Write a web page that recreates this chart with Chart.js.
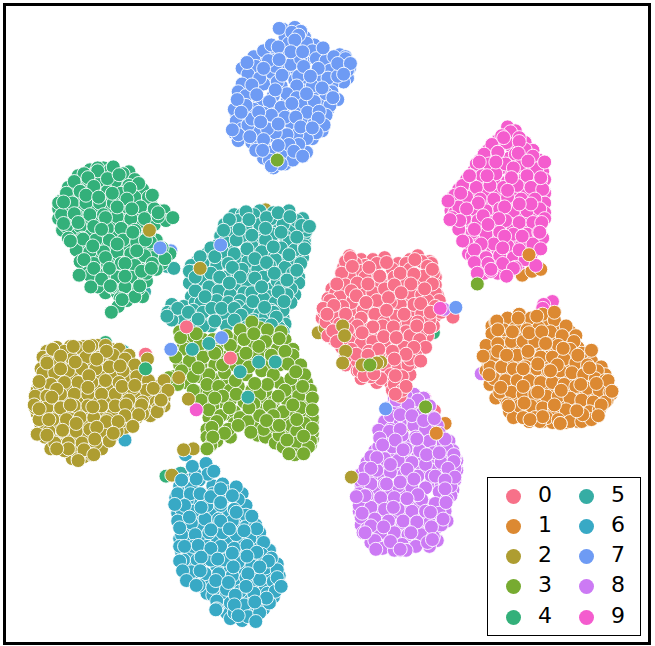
<!DOCTYPE html>
<html>
<head>
<meta charset="utf-8">
<script src="https://cdn.jsdelivr.net/npm/chart.js@4"></script>
<style>
  html, body { margin: 0; padding: 0; background: #fff; }
  #wrap { position: relative; width: 655px; height: 646px; overflow: hidden; }
  #frame { position: absolute; left: 3px; top: 3px; width: 642px; height: 636px; border: 3px solid #000; pointer-events: none; }
  #legend { position: absolute; left: 487px; top: 477px; width: 152px; height: 157px; border: 1px solid #000; background: #fff;
    font-family: "DejaVu Sans", sans-serif; font-size: 22px; color: #000; }
  #legend .dot { position: absolute; width: 15px; height: 15px; border-radius: 50%; }
  #legend .txt { position: absolute; width: 20px; text-align: center; line-height: 24px; }
</style>
</head>
<body>
<div id="wrap">
  <canvas id="tsne" width="655" height="646"></canvas>
  <div id="frame"></div>
  <div id="legend"></div>
</div>
<script>
const labels = ['0', '1', '2', '3', '4', '5', '6', '7', '8', '9'];
const colors = ['#f77189', '#dc8932', '#ae9d31', '#77ab31', '#33b07a', '#36ada4', '#38a9c5', '#6e9bf4', '#cc7af4', '#f45cce'];

// embedding values, x,y pairs per digit
// the back* lists sit under the front* ones, which are the points seen whole
const back0 = [350,254, 362,258, 374,258, 386,256, 400,262, 412,258, 420,254, 432,260, 434,262, 438,276, 438,284, 432,280, 420,282, 406,280, 392,280, 378,272, 366,264, 354,270, 344,266, 340,280, 332,288, 328,298, 342,290, 352,296, 364,288, 380,292, 394,292, 408,298, 420,298, 434,296, 440,294, 442,304, 438,316, 428,308, 416,310, 402,310, 390,318, 378,306, 366,304, 354,310, 342,314, 330,310, 322,318, 332,326, 344,334, 356,334, 368,328, 380,320, 392,330, 404,326, 416,316, 426,324, 436,326, 430,336, 424,332, 414,344, 402,338, 390,344, 378,348, 366,336, 354,338, 342,348, 334,340, 346,366, 362,352, 374,362, 386,356, 398,346, 410,340, 420,350, 414,364, 404,360, 392,368, 382,372, 370,362, 358,372, 362,380, 378,384, 392,384, 406,384, 412,376, 402,398, 394,392,
  356,262, 346,260, 362,270, 378,262, 394,268, 408,262, 424,260, 430,265, 436,272, 426,275, 412,268, 396,276, 382,282, 366,276, 350,275, 342,272, 336,292, 346,284, 358,282, 374,292, 386,288, 400,298, 412,292, 424,294, 438,292, 442,300, 430,300, 416,304, 402,304, 392,302, 378,300, 364,310, 352,302, 340,296, 330,300, 324,312, 326,322, 336,318, 350,322, 362,318, 376,314, 386,322, 398,316, 410,322, 424,314, 438,306, 444,312, 432,320, 420,322, 408,332, 396,334, 384,326, 372,334, 358,326, 348,330, 340,324, 328,336, 338,336, 350,342, 362,344, 374,342, 386,346, 402,344, 412,336, 422,340, 428,348, 418,356, 406,348, 394,352, 380,358, 370,352, 358,362, 346,358, 352,350, 366,368, 376,370, 386,366, 400,368, 410,366, 392,376, 404,378, 382,380, 412,360, 396,386, 404,392, 372,378, 360,372];
const front0 = [351,256, 388,261, 417,258, 370,266, 353,265, 402,272, 416,273, 435,268, 381,275, 337,283, 369,283, 396,284, 413,283, 435,283, 427,288, 352,290, 403,292, 357,295, 390,297, 367,302, 423,303, 323,308, 343,306, 334,305, 388,310, 327,314, 346,314, 406,314, 433,312, 456,317, 432,328, 419,326, 374,327, 395,327, 363,333, 385,337, 398,338, 333,331, 337,342, 416,348, 380,350, 408,355, 357,355, 369,356, 423,362, 396,360, 365,377, 375,375, 397,377, 408,388, 397,396];
const back1 = [506,324, 518,322, 530,322, 542,322, 554,322, 564,328, 576,332, 582,336, 496,326, 500,338, 512,336, 526,336, 538,336, 550,338, 562,340, 574,344, 584,348, 592,360, 492,350, 494,352, 506,350, 520,350, 534,350, 548,352, 558,352, 570,354, 582,356, 598,362, 608,368, 492,364, 500,362, 514,362, 528,362, 540,364, 552,364, 564,366, 576,368, 588,370, 600,372, 612,376, 614,386, 490,372, 502,374, 512,376, 524,376, 538,376, 550,378, 562,378, 574,380, 586,382, 598,384, 610,388, 618,396, 494,386, 506,388, 518,388, 530,390, 542,390, 554,392, 566,392, 578,394, 590,396, 604,398, 614,402, 500,400, 510,400, 522,402, 534,402, 546,404, 558,404, 570,406, 582,408, 594,408, 608,408, 514,414, 526,414, 538,414, 550,414, 562,416, 574,418, 586,418, 600,416, 518,420, 534,424, 548,424, 558,425, 572,425, 584,424, 594,422,
  500,322, 512,318, 524,314, 536,318, 548,314, 560,320, 572,326, 496,334, 508,330, 520,328, 532,330, 544,328, 556,332, 568,336, 580,342, 490,346, 502,344, 516,342, 528,342, 540,342, 552,344, 564,346, 576,350, 588,354, 488,358, 498,356, 510,356, 522,356, 534,356, 546,358, 558,358, 570,360, 582,364, 594,366, 604,372, 494,368, 506,368, 518,370, 530,368, 542,370, 554,372, 566,372, 578,374, 590,376, 602,380, 612,382, 498,380, 510,382, 522,382, 534,382, 546,384, 558,384, 570,386, 582,388, 594,390, 606,392, 617,394, 504,394, 516,394, 528,396, 540,396, 552,398, 564,398, 576,400, 588,402, 600,404, 612,404, 512,406, 524,408, 536,408, 548,410, 560,410, 572,412, 584,414, 596,414, 606,412, 528,420, 540,420, 552,420, 564,422, 576,424, 588,424, 598,422, 566,426, 545,424];
const front1 = [560,312, 542,316, 523,318, 501,321, 502,330, 517,332, 534,333, 547,332, 551,344, 487,357, 502,352, 533,352, 569,349, 584,356, 598,351, 511,356, 543,365, 563,366, 596,369, 493,376, 528,370, 556,372, 615,382, 603,385, 587,386, 505,389, 528,388, 567,392, 543,394, 619,393, 513,408, 529,405, 560,407, 608,407, 548,419, 589,417, 605,418, 566,426, 535,422, 583,413];
const back2 = [40,352, 50,348, 64,347, 78,347, 92,346, 106,350, 36,358, 46,356, 60,354, 74,354, 88,352, 100,352, 114,350, 124,356, 34,370, 42,368, 56,366, 70,366, 84,364, 98,362, 112,362, 126,372, 138,372, 36,380, 38,380, 52,380, 66,378, 80,376, 96,376, 110,378, 124,382, 138,386, 150,388, 160,382, 30,392, 36,392, 48,392, 62,390, 76,390, 90,390, 104,390, 118,392, 134,398, 148,398, 160,400, 28,404, 34,404, 48,404, 60,402, 74,402, 88,402, 102,402, 116,404, 130,408, 146,410, 160,408, 30,416, 38,416, 52,416, 66,416, 80,414, 94,414, 108,416, 120,418, 132,420, 146,418, 34,428, 50,428, 64,428, 78,426, 92,426, 106,428, 120,430, 38,440, 50,440, 64,440, 78,440, 92,440, 106,440, 44,452, 56,448, 68,454, 82,454, 96,452, 66,462, 78,460,
  46,350, 58,352, 72,348, 86,346, 100,346, 40,362, 52,362, 66,360, 80,358, 94,358, 108,356, 120,360, 130,366, 36,374, 48,374, 62,372, 76,370, 90,370, 104,368, 118,372, 132,378, 144,382, 32,386, 44,386, 58,384, 72,384, 86,384, 100,382, 114,384, 128,390, 142,392, 154,394, 28,398, 40,398, 54,396, 68,396, 82,396, 96,396, 110,396, 124,402, 138,404, 152,404, 164,392, 28,410, 40,410, 54,410, 68,408, 82,408, 96,408, 110,408, 124,414, 138,416, 154,410, 32,422, 46,422, 60,422, 74,420, 88,420, 102,422, 116,424, 128,424, 42,434, 56,434, 70,434, 84,432, 98,434, 112,434, 48,446, 62,446, 76,446, 90,446, 104,444, 58,454, 72,462, 86,458];
const front2 = [46,350, 67,347, 54,357, 83,347, 101,352, 91,360, 40,364, 69,363, 54,370, 115,367, 83,377, 32,383, 50,391, 82,389, 117,388, 130,387, 149,390, 45,399, 27,407, 64,407, 87,409, 121,407, 137,407, 157,403, 32,411, 42,422, 70,426, 120,418, 134,417, 153,414, 101,424, 113,424, 128,429, 91,430, 56,433, 30,437, 108,436, 40,438, 89,442, 62,452, 50,452, 78,453, 88,458, 72,464];
const back3 = [176,332, 186,340, 200,340, 216,344, 230,340, 246,332, 258,328, 272,338, 284,340, 180,346, 192,354, 206,350, 220,358, 234,352, 250,346, 268,350, 282,358, 292,350, 176,366, 184,370, 198,366, 212,366, 228,366, 240,374, 252,364, 264,366, 278,366, 292,366, 298,376, 170,378, 182,384, 196,378, 210,380, 224,384, 236,388, 250,392, 264,394, 278,384, 292,390, 306,384, 194,394, 206,396, 216,404, 228,402, 242,404, 260,404, 272,404, 286,402, 304,400, 310,408, 210,408, 224,416, 232,414, 244,418, 258,412, 272,412, 292,414, 308,418, 312,424, 206,420, 216,430, 232,426, 252,430, 268,426, 282,422, 298,428, 310,436, 204,432, 214,444, 228,440, 256,438, 270,434, 284,434, 304,446, 312,442, 212,438, 264,440, 274,446, 290,438, 288,450, 300,452, 310,448,
  182,350, 196,346, 210,340, 224,336, 238,330, 250,322, 266,330, 280,332, 186,362, 200,358, 214,352, 228,346, 242,340, 264,342, 276,350, 292,356, 178,372, 190,378, 206,376, 222,374, 238,360, 256,356, 270,356, 284,352, 300,366, 304,376, 174,386, 190,392, 204,386, 216,388, 228,392, 244,376, 260,372, 272,376, 290,380, 310,392, 198,402, 220,398, 234,396, 258,396, 266,386, 284,392, 298,398, 312,400, 206,412, 218,418, 238,420, 252,406, 268,408, 282,414, 300,410, 312,420, 214,424, 226,432, 246,424, 258,418, 272,418, 290,428, 304,426, 312,436, 204,440, 222,436, 262,432, 278,438, 296,434, 310,444, 208,448, 274,428, 296,446, 308,450, 282,450, 294,458];
const front3 = [177,338, 193,334, 172,358, 212,354, 195,369, 220,366, 165,379, 212,400, 233,382, 244,354, 247,368, 257,347, 252,334, 278,339, 287,365, 295,373, 253,385, 277,398, 302,388, 292,407, 312,412, 247,410, 227,410, 209,430, 236,428, 265,423, 278,428, 296,422, 312,431, 210,440, 249,435, 286,443, 303,439, 288,457, 303,457, 204,452];
const back4 = [84,166, 98,164, 108,166, 124,168, 72,172, 88,170, 102,172, 116,176, 132,184, 62,184, 78,182, 92,182, 106,182, 122,188, 138,194, 54,198, 60,196, 72,194, 88,194, 102,194, 116,196, 130,200, 146,200, 156,208, 52,206, 60,206, 76,206, 90,206, 104,206, 118,208, 132,210, 146,210, 160,208, 52,216, 64,218, 78,218, 92,218, 106,220, 120,220, 136,222, 150,222, 162,218, 56,228, 68,230, 82,230, 96,232, 110,232, 124,234, 138,234, 152,238, 166,252, 68,240, 82,244, 96,244, 110,244, 124,246, 138,248, 150,250, 158,246, 76,254, 92,256, 106,256, 120,258, 134,258, 148,256, 158,262, 80,268, 94,268, 108,268, 122,270, 136,268, 152,268, 90,280, 104,280, 118,282, 132,282, 142,280, 100,292, 112,292, 128,290, 138,296, 122,300,
  78,170, 92,164, 105,166, 118,170, 130,176, 68,178, 82,176, 96,176, 110,178, 124,182, 138,186, 60,190, 74,188, 88,188, 102,188, 116,190, 130,194, 144,194, 52,200, 66,200, 80,200, 94,200, 108,200, 122,204, 136,204, 150,206, 55,212, 70,212, 84,212, 98,212, 112,214, 126,216, 140,216, 154,214, 60,224, 74,224, 88,224, 102,226, 116,226, 130,228, 144,232, 62,236, 76,236, 90,238, 104,238, 118,238, 132,240, 146,240, 70,248, 84,250, 98,250, 112,250, 126,252, 140,254, 74,260, 88,262, 102,262, 116,262, 130,264, 148,262, 84,274, 98,274, 112,276, 126,276, 142,272, 92,286, 106,286, 120,286, 134,288, 115,298, 130,296];
const front4 = [92,167, 108,163, 82,174, 102,175, 114,171, 134,180, 88,183, 125,185, 80,192, 107,190, 93,194, 148,192, 122,196, 57,199, 112,204, 127,206, 154,210, 68,211, 100,215, 57,221, 72,220, 169,215, 96,227, 128,230, 77,237, 64,239, 112,242, 141,238, 87,244, 132,249, 78,258, 100,256, 88,267, 104,267, 120,262, 73,274, 137,270, 147,267, 96,278, 120,275, 105,285, 85,286, 135,285, 113,306, 106,312, 117,299, 161,257];
const back5 = [232,212, 240,212, 258,208, 272,210, 288,208, 302,216, 306,226, 222,222, 232,222, 250,228, 262,232, 278,226, 292,228, 304,238, 218,234, 228,244, 240,234, 256,238, 270,240, 284,234, 298,242, 304,240, 204,252, 214,244, 226,248, 240,254, 254,250, 268,250, 282,260, 298,254, 302,250, 194,260, 206,258, 220,258, 234,260, 246,266, 258,262, 276,264, 292,256, 300,256, 188,264, 192,270, 202,270, 214,270, 228,272, 242,276, 268,272, 284,274, 298,276, 186,282, 196,286, 212,282, 222,288, 234,290, 250,286, 270,288, 288,282, 298,282, 188,296, 200,292, 210,296, 220,298, 232,300, 244,298, 256,302, 268,302, 280,298, 294,294, 168,304, 180,306, 192,302, 206,304, 228,312, 242,302, 256,308, 268,314, 284,306, 290,302, 164,312, 174,318, 186,318, 198,320, 216,312, 242,322, 250,314, 282,318, 178,326, 208,326, 236,322, 258,322, 270,318, 284,324, 252,336, 262,344, 270,340, 282,332,
  236,218, 252,212, 270,216, 282,222, 296,218, 304,232, 306,228, 228,228, 244,224, 258,222, 272,232, 288,240, 302,256, 222,240, 234,238, 250,244, 264,238, 280,246, 294,248, 208,246, 220,250, 232,252, 246,260, 260,250, 274,258, 290,262, 304,244, 200,262, 214,264, 226,262, 240,268, 256,268, 268,264, 284,266, 300,262, 186,270, 198,278, 208,272, 222,276, 234,284, 246,284, 262,276, 276,280, 292,272, 290,288, 192,290, 206,286, 216,290, 228,294, 242,292, 256,292, 268,296, 280,286, 198,302, 214,300, 226,302, 238,300, 250,292, 262,298, 274,302, 286,294, 170,312, 180,320, 190,310, 200,312, 222,314, 236,306, 246,310, 258,314, 270,310, 282,310, 168,320, 188,326, 200,326, 224,326, 252,320, 264,316, 276,324, 256,332, 268,334, 278,328, 272,312];
const front5 = [244,209, 227,217, 247,217, 265,215, 277,210, 289,214, 301,223, 309,224, 221,228, 237,227, 264,226, 280,230, 250,233, 296,235, 304,247, 272,245, 245,247, 288,253, 197,255, 212,255, 253,257, 265,261, 230,266, 296,269, 273,272, 192,276, 217,276, 238,276, 253,277, 286,279, 227,282, 260,286, 277,291, 202,296, 251,301, 283,301, 263,307, 174,308, 209,308, 219,308, 232,308, 185,312, 163,316, 239,315, 275,317, 212,321, 195,319, 232,320, 261,325, 270,325, 245,327, 263,338, 206,344];
const back6 = [186,484, 196,484, 210,490, 220,488, 232,494, 240,498, 180,496, 194,504, 206,504, 220,504, 244,510, 174,506, 176,508, 190,510, 198,516, 212,516, 226,518, 238,520, 250,526, 174,518, 182,520, 196,522, 210,530, 224,530, 238,534, 258,538, 176,532, 184,534, 198,532, 212,544, 226,546, 240,548, 254,552, 268,556, 176,544, 184,546, 198,546, 210,558, 226,558, 240,562, 254,566, 266,568, 276,570, 178,558, 186,560, 200,558, 214,572, 228,574, 242,576, 256,578, 270,580, 278,582, 184,572, 196,572, 208,586, 222,588, 236,590, 250,592, 264,594, 278,592, 192,586, 204,600, 218,602, 232,604, 246,606, 260,606, 272,604, 278,590, 210,602, 222,614, 238,618, 252,608, 262,616, 224,620, 240,628, 254,626, 216,612, 228,626, 246,618,
  182,458, 189,470, 203,467, 192,478, 205,478, 176,490, 188,492, 172,502, 184,504, 198,498, 210,498, 226,496, 236,504, 178,514, 190,516, 204,510, 218,510, 232,514, 244,520, 174,526, 188,528, 202,524, 216,524, 230,526, 244,532, 254,530, 178,540, 192,540, 206,538, 220,538, 234,540, 248,544, 262,548, 176,552, 190,552, 204,552, 218,552, 232,554, 246,558, 260,560, 270,564, 180,566, 194,566, 208,566, 222,566, 236,568, 250,572, 264,574, 276,576, 188,578, 202,580, 216,580, 230,582, 244,584, 258,586, 272,588, 196,592, 210,594, 224,596, 238,598, 252,600, 266,600, 274,598, 214,608, 228,610, 242,612, 256,614, 268,610, 214,616, 232,620, 246,624, 258,620];
const front6 = [189,470, 211,475, 193,483, 178,484, 174,498, 187,498, 197,498, 208,501, 218,493, 234,491, 230,500, 198,512, 181,510, 171,509, 234,517, 186,522, 218,507, 250,521, 218,526, 176,533, 208,535, 227,534, 255,534, 242,536, 195,551, 181,552, 208,554, 245,551, 255,558, 230,559, 198,563, 245,562, 176,567, 267,567, 215,565, 231,573, 258,573, 197,577, 179,577, 246,580, 276,584, 183,587, 213,587, 226,589, 193,592, 244,593, 280,593, 265,605, 233,602, 253,609, 232,612, 213,617, 236,623, 254,629];
const back7 = [282,22, 294,20, 304,30, 296,40, 282,46, 272,48, 260,52, 256,52, 240,62, 250,66, 262,56, 272,54, 284,64, 296,64, 306,52, 314,38, 322,48, 334,60, 340,48, 346,50, 350,62, 348,72, 344,76, 332,78, 320,70, 308,76, 294,74, 280,80, 268,74, 252,84, 240,92, 236,98, 234,108, 234,118, 232,128, 238,116, 246,106, 258,96, 272,90, 286,96, 300,84, 314,88, 332,86, 338,94, 328,104, 318,100, 310,104, 296,102, 282,108, 268,104, 256,112, 264,116, 276,112, 290,118, 304,112, 314,118, 322,126, 312,134, 300,128, 290,136, 278,134, 266,132, 254,128, 244,126, 236,136, 250,138, 262,142, 274,146, 286,146, 298,146, 306,148, 296,152, 284,156, 274,156, 262,154, 272,164, 284,160,
  252,50, 262,44, 270,38, 284,30, 300,24, 288,36, 306,36, 312,44, 316,52, 326,54, 330,64, 318,62, 328,72, 334,50, 346,52, 348,64, 338,70, 346,60, 254,60, 246,68, 240,78, 236,86, 244,90, 232,104, 234,116, 240,124, 236,130, 246,120, 252,104, 262,78, 270,66, 290,58, 298,70, 312,80, 296,80, 286,88, 268,96, 280,102, 296,92, 322,96, 330,100, 326,110, 324,120, 316,128, 306,134, 296,130, 286,130, 274,128, 266,124, 250,114, 256,140, 268,148, 282,150, 292,156, 280,160, 268,156, 254,146, 298,140, 288,140, 262,108, 270,110, 284,112, 244,100, 258,72, 276,76, 304,98, 314,96, 326,88, 274,60, 300,52];
const front7 = [278,21, 291,25, 298,28, 294,33, 277,40, 323,41, 290,45, 302,45, 245,56, 267,54, 278,53, 338,57, 351,57, 344,68, 303,60, 262,62, 281,69, 310,70, 250,79, 274,84, 322,82, 255,89, 306,88, 235,94, 333,92, 291,98, 239,107, 257,107, 307,107, 319,106, 295,112, 318,113, 259,117, 277,119, 300,122, 230,125, 312,123, 248,132, 262,135, 277,141, 293,147, 261,146, 302,152, 270,162];
const back8 = [396,392, 406,394, 416,396, 426,400, 432,408, 414,406, 402,406, 390,410, 386,424, 396,424, 408,420, 420,422, 432,428, 440,428, 444,440, 452,444, 456,454, 460,464, 460,474, 458,484, 450,460, 438,450, 424,446, 410,446, 398,444, 388,446, 376,454, 368,466, 380,468, 394,458, 406,460, 420,460, 434,462, 446,472, 456,480, 438,474, 424,474, 410,472, 398,470, 384,480, 372,480, 362,478, 362,490, 364,494, 378,496, 392,494, 406,498, 420,498, 434,486, 444,490, 456,494, 454,500, 444,510, 432,510, 418,510, 404,508, 390,508, 376,506, 362,504, 360,506, 360,516, 366,516, 380,520, 394,520, 408,522, 422,522, 436,522, 448,516, 450,526, 438,534, 426,534, 412,534, 398,532, 384,532, 372,528, 362,530, 364,538, 374,540, 388,544, 402,544, 416,546, 428,542, 440,546, 432,552, 422,548, 410,554, 398,552, 380,552, 372,548, 402,556,
  396,400, 408,398, 420,402, 400,412, 392,418, 412,414, 424,416, 436,420, 402,426, 416,428, 428,432, 442,436, 446,446, 392,432, 384,440, 404,438, 418,440, 432,444, 380,450, 394,450, 408,452, 422,454, 436,456, 450,452, 458,462, 372,460, 386,462, 400,464, 414,466, 428,468, 444,466, 452,476, 458,472, 366,472, 378,474, 392,476, 406,478, 420,480, 434,480, 448,486, 362,486, 372,488, 386,488, 400,490, 414,492, 428,492, 442,496, 454,490, 360,498, 368,500, 382,502, 396,502, 410,504, 424,504, 438,508, 450,504, 360,510, 372,512, 386,514, 400,514, 414,516, 428,516, 442,518, 362,522, 376,524, 390,526, 404,528, 418,528, 432,528, 444,530, 368,534, 382,538, 396,538, 410,540, 424,540, 436,542, 376,546, 390,550, 404,550, 418,552, 430,548, 384,554, 396,556, 408,556];
const front8 = [398,402, 410,407, 402,417, 414,418, 426,423, 437,421, 380,433, 391,434, 402,432, 419,442, 397,443, 381,441, 384,448, 448,442, 405,453, 378,461, 429,458, 442,456, 457,458, 457,465, 372,472, 392,468, 409,473, 451,472, 458,481, 438,480, 364,483, 416,483, 388,488, 402,486, 448,484, 366,500, 357,501, 420,499, 448,493, 409,503, 449,507, 395,512, 363,518, 433,517, 405,526, 419,527, 446,524, 372,531, 385,532, 434,532, 366,538, 413,538, 392,547, 435,545, 377,555, 402,555];
const back9 = [512,122, 520,126, 502,136, 516,142, 492,146, 530,138, 538,146, 544,156, 484,156, 498,154, 514,154, 530,154, 478,166, 490,166, 506,164, 520,164, 536,164, 548,168, 470,176, 482,178, 498,176, 512,178, 528,176, 542,178, 550,176, 462,186, 474,188, 488,190, 502,190, 518,188, 532,190, 546,192, 550,190, 456,194, 466,198, 480,200, 494,202, 508,200, 522,202, 538,202, 550,200, 454,208, 458,210, 472,210, 486,212, 500,212, 514,212, 528,214, 542,212, 550,210, 454,218, 462,220, 476,222, 490,226, 504,224, 518,226, 532,226, 546,222, 468,234, 482,238, 496,236, 510,238, 524,238, 538,236, 548,236, 474,246, 488,250, 502,248, 516,250, 530,250, 542,248, 472,252, 480,262, 496,262, 510,260, 524,262, 536,258, 488,272, 502,272, 514,270,
  515,127, 506,131, 524,133, 496,140, 511,138, 530,145, 488,150, 502,148, 520,150, 538,152, 480,160, 493,160, 510,160, 526,160, 542,165, 474,172, 486,172, 500,170, 516,172, 532,172, 546,176, 466,182, 480,184, 494,182, 508,184, 522,182, 536,184, 548,186, 458,192, 470,194, 484,196, 498,196, 512,194, 526,196, 540,196, 462,204, 476,206, 490,208, 504,206, 518,208, 532,208, 545,206, 455,215, 468,216, 482,218, 496,220, 510,218, 524,220, 538,220, 550,216, 462,227, 476,230, 490,232, 504,230, 518,232, 532,232, 544,230, 470,240, 484,244, 498,242, 512,244, 526,244, 538,242, 476,254, 490,256, 504,254, 518,256, 530,258, 482,268, 495,270, 508,265, 520,266];
const front9 = [508,133, 524,137, 502,148, 523,149, 483,158, 500,158, 533,157, 550,158, 518,164, 473,172, 491,172, 516,174, 546,174, 512,187, 464,190, 451,198, 482,200, 470,206, 536,201, 524,201, 509,204, 463,218, 453,217, 487,213, 503,216, 492,222, 478,227, 547,220, 545,230, 509,234, 527,234, 466,239, 485,242, 478,248, 507,246, 524,248, 546,247, 478,261, 507,262, 492,262, 518,267, 541,264, 495,268, 481,272, 511,275];

// misplaced points of another digit: digit index, x, y
const strayUnder = [
  [1,527,274], [1,537,270], [1,546,268],
  [9,558,301], [9,549,304], [9,548,308], [9,517,326], [9,497,336], [8,485,375], [3,493,348],
  [4,429,318], [4,436,333], [2,318,333], [2,325,328], [8,395,383],
  [0,408,390], [0,397,395], [0,437,413], [9,427,400], [0,412,413], [0,392,418], [1,448,426], [2,412,427],
  [2,264,207], [2,208,303], [2,270,307],
  [4,100,343], [5,118,352], [8,130,398], [6,120,443],
  [7,147,207], [7,167,249], [5,163,265], [5,170,267], [5,140,291],
  [2,183,485], [4,162,480], [5,177,477]
];
const strayOver = [
  [3,276,156],
  [1,534,253], [3,481,283],
  [2,343,326], [2,345,336], [2,346,352], [2,343,364], [2,363,366], [2,382,363], [2,378,364], [3,371,366],
  [8,447,309], [9,443,308], [7,459,307],
  [7,387,411], [3,428,409], [1,439,436], [2,352,481],
  [2,197,267], [7,218,243],
  [0,183,327], [7,219,338], [7,167,350], [5,189,350], [5,206,344], [0,228,359],
  [5,246,399], [5,257,363], [5,274,363], [5,238,373],
  [9,193,412], [2,175,379], [2,185,401], [2,157,402],
  [2,190,452], [2,180,453], [3,204,452], [2,168,479], [6,178,484],
  [0,141,355], [2,143,360], [4,141,370],
  [2,145,228], [7,156,246]
];

const groups = [
  [back0, front0], [back1, front1], [back2, front2], [back3, front3], [back4, front4],
  [back5, front5], [back6, front6], [back7, front7], [back8, front8], [back9, front9],
];

function toPoints(flat) {
  const pts = [];
  for (let i = 0; i < flat.length; i += 2) pts.push({ x: flat[i], y: flat[i + 1] });
  return pts;
}

const markStyle = {
  pointBorderColor: '#fff',
  pointBorderWidth: 0.9,
  pointRadius: 7,
};

function strayDataset(list, order) {
  return {
    label: 'stray',
    data: list.map(s => ({ x: s[1], y: s[2] })),
    pointBackgroundColor: list.map(s => colors[s[0]]),
    order,
    ...markStyle,
  };
}

const datasets = groups.map((g, i) => ({
  label: labels[i],
  data: [...toPoints(g[0]), ...toPoints(g[1])],
  pointBackgroundColor: colors[i],
  order: 2,
  ...markStyle,
}));
datasets.push(strayDataset(strayUnder, 3));
datasets.push(strayDataset(strayOver, 1));

new Chart(document.getElementById('tsne').getContext('2d'), {
  type: 'scatter',
  data: { datasets },
  options: {
    responsive: false,
    animation: false,
    layout: { padding: 0 },
    plugins: { legend: { display: false }, tooltip: { enabled: false } },
    scales: {
      x: { type: 'linear', min: 0, max: 655, display: false },
      y: { type: 'linear', min: 0, max: 646, reverse: true, display: false },
    },
  },
});

// legend in two columns, built from the same lists
const legendEl = document.getElementById('legend');
const colX = [18, 91];
const txtX = [47, 120];
const rowY = [11, 41, 71, 101, 132];
labels.forEach((lab, i) => {
  const col = i < 5 ? 0 : 1;
  const row = i % 5;
  const dot = document.createElement('div');
  dot.className = 'dot';
  dot.style.left = colX[col] + 'px';
  dot.style.top = rowY[row] + 'px';
  dot.style.background = colors[i];
  legendEl.appendChild(dot);
  const txt = document.createElement('div');
  txt.className = 'txt';
  txt.style.left = txtX[col] + 'px';
  txt.style.top = (rowY[row] - 6) + 'px';
  txt.textContent = lab;
  legendEl.appendChild(txt);
});
</script>
</body>
</html>
